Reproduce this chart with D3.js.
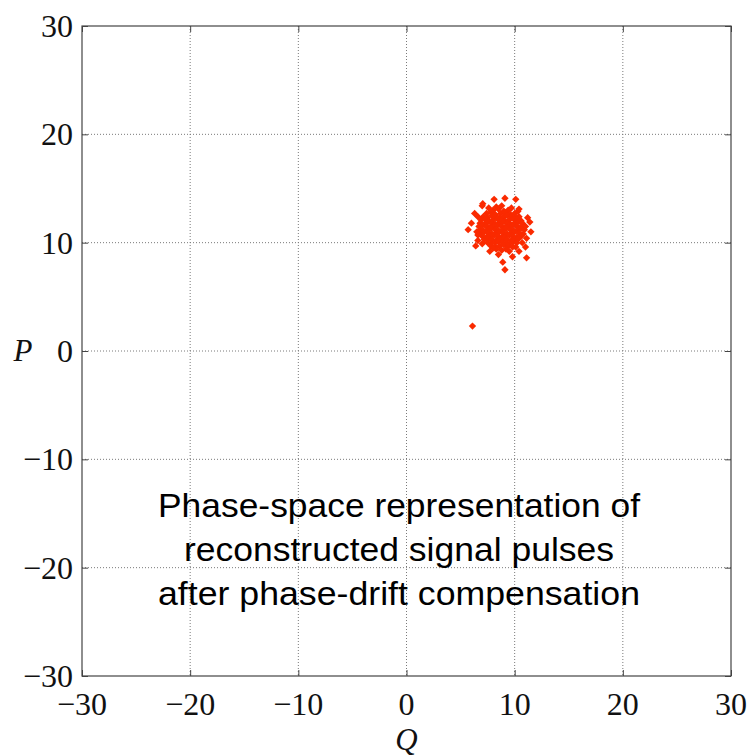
<!DOCTYPE html>
<html>
<head>
<meta charset="utf-8">
<script src="https://cdn.jsdelivr.net/npm/d3@7"></script>
<style>
  body { margin: 0; background: #fff; }
  svg { display: block; }
  .tick-label { font-family: "Liberation Serif", "DejaVu Serif", serif; font-size: 32px; fill: #111; }
  .axis-name { font-family: "Liberation Serif", "DejaVu Serif", serif; font-style: italic; font-size: 31px; fill: #111; }
  .note { font-family: "Liberation Sans", Arial, sans-serif; font-size: 33px; fill: #000; }
</style>
</head>
<body>
<div id="chart"></div>
<script>
// tick values shared by both axes
var ticks = [-30, -20, -10, 0, 10, 20, 30];

// Q coordinates of the measured pulses
var qValues = [
  8.0, 8.5, 9.0, 9.4,
  7.4, 7.8, 8.2, 8.7, 9.1, 9.6, 10.0,
  7.1, 7.5, 7.9, 8.3, 8.6, 9.0, 9.3, 9.7, 10.1, 10.4,
  6.9, 7.3, 7.6, 8.0, 8.4, 8.8, 9.1, 9.5, 9.9, 10.2, 10.6,
  6.8, 7.2, 7.5, 7.9, 8.2, 8.6, 8.9, 9.3, 9.6, 10.0, 10.3, 10.7,
  6.7, 7.0, 7.4, 7.7, 8.1, 8.4, 8.8, 9.1, 9.5, 9.8, 10.2, 10.5, 10.9,
  6.8, 7.1, 7.5, 7.8, 8.2, 8.5, 8.9, 9.2, 9.6, 9.9, 10.3, 10.6, 10.9,
  6.9, 7.2, 7.6, 7.9, 8.3, 8.6, 9.0, 9.3, 9.7, 10.0, 10.4, 10.8,
  7.0, 7.4, 7.7, 8.1, 8.4, 8.8, 9.1, 9.5, 9.8, 10.2, 10.6,
  7.2, 7.6, 7.9, 8.3, 8.6, 9.0, 9.3, 9.7, 10.0, 10.4,
  7.5, 7.8, 8.2, 8.5, 8.9, 9.2, 9.6, 9.9, 10.2,
  7.8, 8.2, 8.6, 9.0, 9.4, 9.8,
  8.3, 8.8, 9.2,
  7.6, 8.3, 8.8, 9.7, 10.3, 6.6, 6.5, 6.6, 7.0, 10.7, 11.0, 9.5, 10.1,
  7.05, 8.1, 9.1, 10.1, 6.3, 5.7, 6.0, 11.4, 11.5, 11.1, 11.0, 6.4,
  10.4, 8.0, 8.5, 8.9, 9.1, 11.1, 10.4, 7.0, 11.2, 6.6, 7.7, 9.8,
  6.1
];

// P coordinates, same order as qValues
var pValues = [
  13.0, 13.1, 12.9, 13.0,
  12.7, 12.8, 12.6, 12.7, 12.8, 12.6, 12.7,
  12.4, 12.3, 12.5, 12.4, 12.3, 12.4, 12.5, 12.4, 12.3, 12.4,
  12.1, 12.2, 12.0, 12.1, 12.2, 12.1, 12.0, 12.1, 12.2, 12.1, 12.0,
  11.8, 11.7, 11.9, 11.8, 11.7, 11.8, 11.9, 11.8, 11.7, 11.8, 11.9, 11.8,
  11.5, 11.6, 11.5, 11.4, 11.5, 11.6, 11.5, 11.4, 11.5, 11.6, 11.5, 11.4, 11.5,
  11.2, 11.1, 11.2, 11.3, 11.2, 11.1, 11.2, 11.3, 11.2, 11.1, 11.2, 11.3, 11.2,
  10.9, 11.0, 10.9, 10.8, 10.9, 11.0, 10.9, 10.8, 10.9, 11.0, 10.9, 10.8,
  10.6, 10.5, 10.6, 10.7, 10.6, 10.5, 10.6, 10.7, 10.6, 10.5, 10.6,
  10.3, 10.4, 10.3, 10.2, 10.3, 10.4, 10.3, 10.2, 10.3, 10.4,
  10.0, 9.9, 10.0, 10.1, 10.0, 9.9, 10.0, 10.1, 10.0,
  9.7, 9.6, 9.7, 9.8, 9.7, 9.6,
  9.4, 9.3, 9.4,
  13.2, 13.3, 13.4, 13.2, 12.9, 12.4, 11.0, 10.2, 9.9, 10.0, 11.5, 9.2, 9.6,
  13.6, 14.0, 14.1, 14.0, 12.7, 11.2, 11.8, 11.9, 11.0, 10.4, 9.6, 9.7,
  9.2, 9.5, 8.9, 8.2, 7.5, 8.6, 13.1, 13.4, 12.3, 10.7, 9.2, 8.7,
  2.3
];

var noteLines = [
  'Phase-space representation of',
  'reconstructed signal pulses',
  'after phase-drift compensation'
];
// widths the three lines take in the picture
var noteWidths = [482, 430, 482];

var width = 751, height = 756;
var margin = {top: 26, right: 20, bottom: 80, left: 82};
var plotW = 649, plotH = 650;

var svg = d3.select('#chart').append('svg')
    .attr('width', width)
    .attr('height', height);

var x = d3.scaleLinear().domain([-30, 30]).range([0, plotW]);
var y = d3.scaleLinear().domain([-30, 30]).range([plotH, 0]);

var g = svg.append('g')
    .attr('transform', 'translate(' + margin.left + ',' + margin.top + ')');

// dotted grid
g.append('g').selectAll('line.gx')
    .data(ticks.slice(1, -1))
    .enter().append('line')
    .attr('x1', function(d) { return x(d); })
    .attr('x2', function(d) { return x(d); })
    .attr('y1', 0).attr('y2', plotH)
    .style('stroke', '#7a7a7a')
    .style('stroke-width', 1)
    .style('stroke-dasharray', '1,2');

g.append('g').selectAll('line.gy')
    .data(ticks.slice(1, -1))
    .enter().append('line')
    .attr('y1', function(d) { return y(d); })
    .attr('y2', function(d) { return y(d); })
    .attr('x1', 0).attr('x2', plotW)
    .style('stroke', '#7a7a7a')
    .style('stroke-width', 1)
    .style('stroke-dasharray', '1,2');

// points
var points = qValues.map(function(q, i) { return {q: q, p: pValues[i]}; });
var marker = d3.symbol().type(d3.symbolSquare).size(27);

g.append('g').selectAll('path')
    .data(points)
    .enter().append('path')
    .attr('d', marker)
    .attr('transform', function(d) {
        return 'translate(' + x(d.q) + ',' + y(d.p) + ') rotate(45)';
    })
    .style('fill', '#fa2a00');

// inward ticks on all four sides, labels are written separately
function frameAxis(axis, transform) {
    var a = g.append('g')
        .attr('transform', transform)
        .call(axis.tickValues(ticks).tickSize(-6).tickFormat(''));
    a.select('.domain').remove();
    a.selectAll('line').style('stroke', '#444');
}
frameAxis(d3.axisBottom(x), 'translate(0,' + plotH + ')');
frameAxis(d3.axisTop(x), 'translate(0,0)');
frameAxis(d3.axisLeft(y), 'translate(0,0)');
frameAxis(d3.axisRight(y), 'translate(' + plotW + ',0)');

g.append('rect')
    .attr('width', plotW).attr('height', plotH)
    .style('fill', 'none')
    .style('stroke', '#444')
    .style('stroke-width', 1.2);

function fmt(d) { return d < 0 ? '\u2212' + Math.abs(d) : String(d); }

// tick labels
g.selectAll('text.xl')
    .data(ticks)
    .enter().append('text')
    .attr('class', 'tick-label')
    .attr('x', function(d) { return x(d); })
    .attr('y', plotH + 39)
    .attr('text-anchor', 'middle')
    .text(fmt);

g.selectAll('text.yl')
    .data(ticks)
    .enter().append('text')
    .attr('class', 'tick-label')
    .attr('x', -9)
    .attr('y', function(d) { return y(d) + 11; })
    .attr('text-anchor', 'end')
    .text(fmt);

// axis names
svg.append('text')
    .attr('class', 'axis-name')
    .attr('x', margin.left + plotW / 2)
    .attr('y', 750)
    .attr('text-anchor', 'middle')
    .text('Q');

svg.append('text')
    .attr('class', 'axis-name')
    .attr('x', 23)
    .attr('y', 361)
    .attr('text-anchor', 'middle')
    .text('P');

// annotation
svg.append('g').selectAll('text')
    .data(noteLines)
    .enter().append('text')
    .attr('class', 'note')
    .attr('x', 399)
    .attr('y', function(d, i) { return 517 + i * 44; })
    .attr('text-anchor', 'middle')
    .attr('textLength', function(d, i) { return noteWidths[i]; })
    .attr('lengthAdjust', 'spacingAndGlyphs')
    .text(function(d) { return d; });
</script>
</body>
</html>
